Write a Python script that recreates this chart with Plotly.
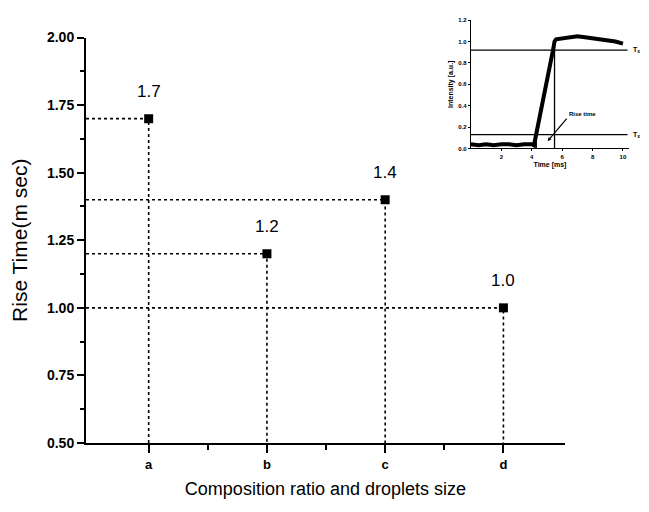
import plotly.graph_objects as go

# ---------------- data ----------------
categories = ["a", "b", "c", "d"]
rise_time = [1.7, 1.2, 1.4, 1.0]
value_labels = ["1.7", "1.2", "1.4", "1.0"]
y_tickvals = [0.50, 0.75, 1.00, 1.25, 1.50, 1.75, 2.00]
y_ticktext = ["0.50", "0.75", "1.00", "1.25", "1.50", "1.75", "2.00"]

# inset: intensity vs time
inset_time = [0.0, 0.5, 1.0, 1.5, 2.0, 2.5, 3.0, 3.5, 4.0, 4.15, 5.4, 5.5, 5.6, 6.0, 6.5, 7.0, 7.5, 8.0, 8.5, 9.0, 9.5, 10.0]
inset_intensity = [0.04, 0.03, 0.04, 0.03, 0.04, 0.04, 0.03, 0.04, 0.04, 0.03, 0.92, 1.00, 1.02, 1.03, 1.04, 1.05, 1.04, 1.03, 1.02, 1.01, 1.00, 0.98]
inset_xticks = [2, 4, 6, 8, 10]
inset_yticks = [0.0, 0.2, 0.4, 0.6, 0.8, 1.0, 1.2]
inset_yticktext = ["0.0", "0.2", "0.4", "0.6", "0.8", "1.0", "1.2"]
tx_high = 0.92
tx_low = 0.13
rise_start = 4.3
rise_end = 5.5

XMIN, XMAX = -0.53, 3.52
YMIN, YMAX = 0.5, 2.0
IX_MAX = 10.4

x_pos = list(range(len(categories)))

fig = go.Figure()

# dotted guide lines
gx, gy = [], []
for xp, v in zip(x_pos, rise_time):
    gx += [XMIN, xp, xp, None]
    gy += [v, v, YMIN, None]
fig.add_trace(go.Scatter(x=gx, y=gy, mode="lines",
                         line=dict(color="black", width=1.6, dash="dot"),
                         hoverinfo="skip", showlegend=False, cliponaxis=False))

# markers
fig.add_trace(go.Scatter(x=x_pos, y=rise_time, mode="markers",
                         marker=dict(symbol="square", size=9, color="black"),
                         showlegend=False))

# value labels
for xp, v, t in zip(x_pos, rise_time, value_labels):
    fig.add_annotation(x=xp, y=v, text=t, showarrow=False, yshift=27,
                       font=dict(family="Arial", size=17, color="black"))

# ---------------- inset ----------------
fig.add_trace(go.Scatter(x=inset_time, y=inset_intensity, mode="lines",
                         line=dict(color="black", width=4),
                         xaxis="x2", yaxis="y2", showlegend=False))
for lvl in [tx_high, tx_low]:
    fig.add_trace(go.Scatter(x=[0, 10.3], y=[lvl, lvl], mode="lines",
                             line=dict(color="black", width=1.3),
                             xaxis="x2", yaxis="y2", showlegend=False))
fig.add_trace(go.Scatter(x=[rise_start, rise_start, None, rise_end, rise_end],
                         y=[0, tx_low, None, 0, tx_high + 0.05], mode="lines",
                         line=dict(color="black", width=1.3),
                         xaxis="x2", yaxis="y2", showlegend=False))
for lvl in [tx_high, tx_low]:
    fig.add_annotation(xref="x2 domain", yref="y2", x=1.0, y=lvl, xanchor="left",
                       text="T<sub>x</sub>", showarrow=False, xshift=2,
                       font=dict(family="Arial", size=7, color="black", weight="bold"))
fig.add_annotation(xref="x2", yref="y2", x=5.05, y=0.07, ax=6.3, ay=0.28,
                   axref="x2", ayref="y2", text="Rise time", showarrow=True,
                   arrowhead=2, arrowsize=0.6, arrowwidth=1.2, arrowcolor="black",
                   xanchor="left", yanchor="bottom",
                   font=dict(family="Arial", size=6, color="black", weight="bold"))

fig.update_layout(
    width=649, height=512,
    margin=dict(l=86, r=10, t=10, b=69),
    paper_bgcolor="white", plot_bgcolor="white",
    font=dict(family="Arial", color="black"),
    xaxis=dict(
        domain=[0, 0.866], range=[XMIN, XMAX],
        tickmode="array", tickvals=x_pos, ticktext=categories,
        showline=True, linewidth=2, linecolor="black",
        ticks="outside", ticklen=8, tickwidth=2, tickcolor="black",
        minor=dict(tickmode="array", tickvals=[0.5, 1.5, 2.5], ticks="outside",
                   ticklen=5, tickwidth=1.5, tickcolor="black"),
        showgrid=False, zeroline=False,
        tickfont=dict(family="Arial", size=13, color="black", weight="bold"),
        title=dict(text="Composition ratio and droplets size",
                   font=dict(family="Arial", size=18, color="black"), standoff=12),
    ),
    yaxis=dict(
        domain=[0, 0.954], range=[YMIN, YMAX],
        tickmode="array", tickvals=y_tickvals, ticktext=y_ticktext,
        showline=True, linewidth=2, linecolor="black",
        ticks="outside", ticklen=7, tickwidth=2, tickcolor="black",
        minor=dict(tickmode="linear", tick0=0.625, dtick=0.25, ticks="outside",
                   ticklen=4, tickwidth=1.5, tickcolor="black"),
        showgrid=False, zeroline=False,
        tickfont=dict(family="Arial", size=14, color="black", weight="bold"),
        title=dict(text="Rise Time(m sec)",
                   font=dict(family="Arial", size=21, color="black"), standoff=14),
    ),
    xaxis2=dict(
        domain=[0.696, 0.982], range=[0, IX_MAX], anchor="y2",
        tickmode="array", tickvals=inset_xticks,
        showline=True, linewidth=1, linecolor="black",
        ticks="outside", ticklen=2, tickwidth=1, tickcolor="black",
        showgrid=False, zeroline=False,
        tickfont=dict(family="Arial", size=6, color="black", weight="bold"),
        title=dict(text="Time [ms]", font=dict(family="Arial", size=7, color="black", weight="bold"),
                   standoff=3),
    ),
    yaxis2=dict(
        domain=[0.693, 0.995], range=[0, 1.2], anchor="x2",
        tickmode="array", tickvals=inset_yticks, ticktext=inset_yticktext,
        showline=True, linewidth=1, linecolor="black",
        ticks="outside", ticklen=2, tickwidth=1, tickcolor="black",
        showgrid=False, zeroline=False,
        tickfont=dict(family="Arial", size=6, color="black", weight="bold"),
        title=dict(text="Intensity [a.u.]", font=dict(family="Arial", size=7, color="black", weight="bold"),
                   standoff=3),
    ),
    showlegend=False,
)

fig.write_html("out.html")
